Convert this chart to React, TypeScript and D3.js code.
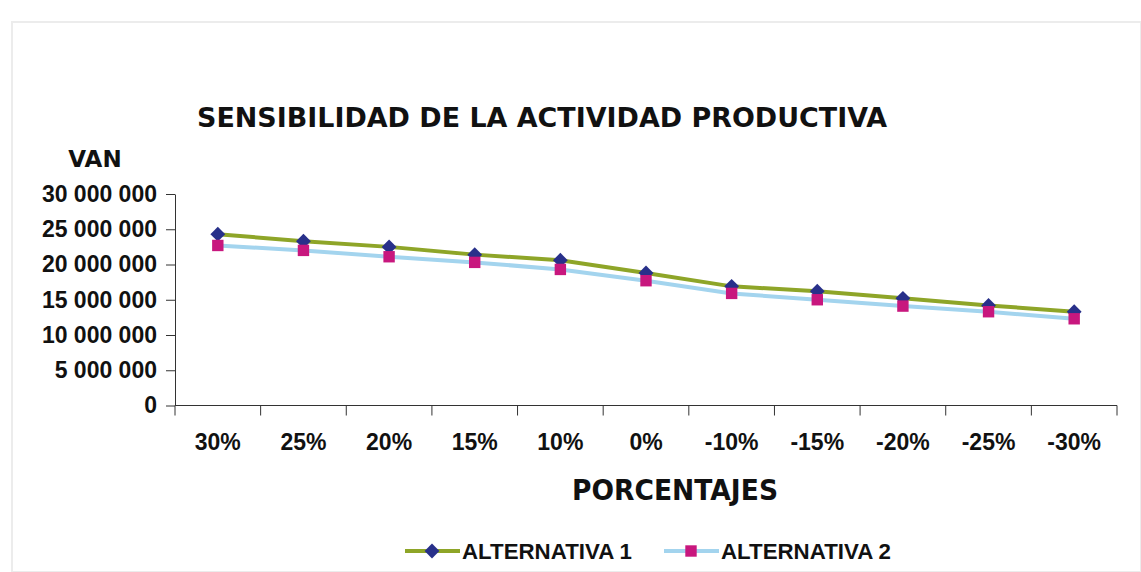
import React, { useEffect, useRef } from "react";
import * as d3 from "d3";

const categories = ["30%", "25%", "20%", "15%", "10%", "0%", "-10%", "-15%", "-20%", "-25%", "-30%"];
const alternativa1 = [24300000, 23300000, 22500000, 21400000, 20600000, 18800000, 16900000, 16200000, 15200000, 14200000, 13300000];
const alternativa2 = [22700000, 22000000, 21100000, 20300000, 19300000, 17700000, 15900000, 15000000, 14100000, 13300000, 12300000];
const yTicks = [0, 5000000, 10000000, 15000000, 20000000, 25000000, 30000000];

const W = 1141;
const H = 572;

const fmt = d3
  .formatLocale({ decimal: ",", thousands: " ", grouping: [3], currency: ["", ""] })
  .format(",d");

export default function App() {
  const ref = useRef<SVGSVGElement>(null);

  useEffect(() => {
    const svg = d3.select(ref.current);
    svg.selectAll("*").remove();

    const x = d3.scaleBand<string>().domain(categories).range([175, 1117]);
    const y = d3.scaleLinear().domain([0, 30000000]).range([405.5, 194]);

    // faint frame of the scanned chart
    svg.append("rect")
      .attr("x", 12).attr("y", 22)
      .attr("width", W - 12).attr("height", H - 22)
      .attr("fill", "none").attr("stroke", "#ececec").attr("stroke-width", 2);

    // title
    svg.append("text")
      .attr("x", 197).attr("y", 127)
      .attr("font-family", "DejaVu Sans").attr("font-weight", "bold")
      .attr("font-size", 27).attr("fill", "#111")
      .attr("textLength", 690).attr("lengthAdjust", "spacingAndGlyphs")
      .text("SENSIBILIDAD DE LA ACTIVIDAD PRODUCTIVA");

    svg.append("text")
      .attr("x", 95).attr("y", 167).attr("text-anchor", "middle")
      .attr("font-family", "DejaVu Sans").attr("font-weight", "bold")
      .attr("font-size", 23).attr("fill", "#111")
      .text("VAN");

    // y axis
    const yAxis = svg.append("g")
      .attr("transform", "translate(175,0)")
      .call(d3.axisLeft(y).tickValues(yTicks).tickSize(9).tickSizeOuter(0).tickPadding(9).tickFormat((d) => fmt(+d)));
    yAxis.select(".domain").attr("stroke", "#333");
    yAxis.selectAll(".tick line").attr("stroke", "#333");
    yAxis.selectAll(".tick text")
      .attr("font-family", "Liberation Sans").attr("font-weight", "bold")
      .attr("font-size", 23).attr("fill", "#111");

    // x axis: ticks between categories
    const xAxis = svg.append("g");
    const [x0, x1] = x.range();
    xAxis.append("line")
      .attr("x1", x0).attr("x2", x1)
      .attr("y1", y(0)).attr("y2", y(0))
      .attr("stroke", "#333");
    const bounds = categories.map((c) => x(c) as number).concat([x1]);
    xAxis.selectAll("line.tk")
      .data(bounds)
      .enter()
      .append("line")
      .attr("class", "tk")
      .attr("x1", (d) => d).attr("x2", (d) => d)
      .attr("y1", y(0)).attr("y2", y(0) + 10)
      .attr("stroke", "#333");
    xAxis.selectAll("text")
      .data(categories)
      .enter()
      .append("text")
      .attr("x", (d) => (x(d) as number) + x.bandwidth() / 2)
      .attr("y", 450)
      .attr("text-anchor", "middle")
      .attr("font-family", "Liberation Sans").attr("font-weight", "bold")
      .attr("font-size", 23).attr("fill", "#111")
      .text((d) => d);

    svg.append("text")
      .attr("x", 572).attr("y", 500)
      .attr("font-family", "DejaVu Sans").attr("font-weight", "bold")
      .attr("font-size", 29).attr("fill", "#111")
      .attr("textLength", 206).attr("lengthAdjust", "spacingAndGlyphs")
      .text("PORCENTAJES");

    const line = d3.line<number>()
      .x((_, i) => (x(categories[i]) as number) + x.bandwidth() / 2)
      .y((d) => y(d));

    // diamond = square turned 45 degrees (Excel style), square marker
    const diamond = d3.symbol().type(d3.symbolSquare).size(110);
    const square = d3.symbol().type(d3.symbolSquare).size(130);

    svg.append("path")
      .attr("d", line(alternativa1))
      .attr("fill", "none").attr("stroke", "#8ea528").attr("stroke-width", 4);
    svg.selectAll("path.m1")
      .data(alternativa1)
      .enter()
      .append("path")
      .attr("class", "m1")
      .attr("d", diamond)
      .attr("transform", (d, i) => `translate(${(x(categories[i]) as number) + x.bandwidth() / 2},${y(d)}) rotate(45)`)
      .attr("fill", "#28308a");

    svg.append("path")
      .attr("d", line(alternativa2))
      .attr("fill", "none").attr("stroke", "#a3d4ee").attr("stroke-width", 4);
    svg.selectAll("path.m2")
      .data(alternativa2)
      .enter()
      .append("path")
      .attr("class", "m2")
      .attr("d", square)
      .attr("transform", (d, i) => `translate(${(x(categories[i]) as number) + x.bandwidth() / 2},${y(d)})`)
      .attr("fill", "#c8177e");

    // legend
    const legend = [
      { name: "ALTERNATIVA 1", color: "#8ea528", marker: diamond, fill: "#28308a", rot: 45, x: 405 },
      { name: "ALTERNATIVA 2", color: "#a3d4ee", marker: square, fill: "#c8177e", rot: 0, x: 664 },
    ];
    const lg = svg.selectAll("g.lg")
      .data(legend)
      .enter()
      .append("g")
      .attr("class", "lg")
      .attr("transform", (d) => `translate(${d.x},551)`);
    lg.append("line")
      .attr("x1", 0).attr("x2", 55)
      .attr("stroke", (d) => d.color).attr("stroke-width", 4);
    lg.append("path")
      .attr("d", (d) => d.marker())
      .attr("transform", (d) => `translate(27,0) rotate(${d.rot})`)
      .attr("fill", (d) => d.fill);
    lg.append("text")
      .attr("x", 57).attr("y", 8)
      .attr("font-family", "Liberation Sans").attr("font-weight", "bold")
      .attr("font-size", 22).attr("fill", "#111")
      .attr("textLength", 170).attr("lengthAdjust", "spacingAndGlyphs")
      .text((d) => d.name);
  }, []);

  return <svg ref={ref} width={W} height={H} style={{ display: "block", position: "absolute", left: 0, top: 0, background: "#fff" }} />;
}
